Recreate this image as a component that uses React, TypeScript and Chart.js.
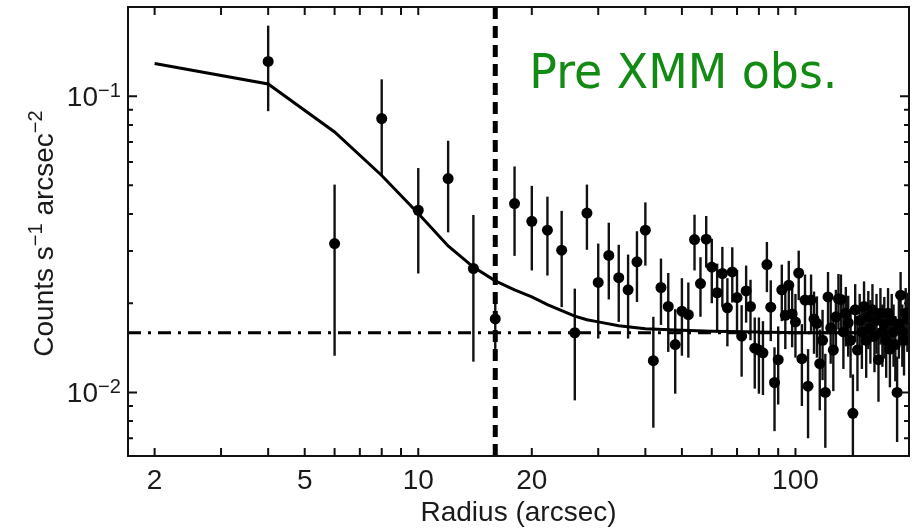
import React, { useEffect, useRef } from "react";
import { Chart, registerables } from "chart.js";

Chart.register(...registerables);

// ---- data ----
const radius = [
  4, 6, 8, 10, 12, 14, 16, 18, 20, 22, 24, 26, 28, 30, 32, 34, 36, 38, 40, 42,
  44, 46, 48, 50, 52, 54, 56, 58, 60, 62, 64, 66, 68, 70, 72, 74, 76, 78, 80, 82,
  84, 86, 88, 90, 92, 94, 96, 98, 100, 102, 104, 106, 108, 110, 112, 114, 116, 118, 120, 122,
  124, 126, 128, 130, 132, 134, 136, 138, 140, 142, 144, 146, 148, 150, 152, 154, 156, 158, 160, 162,
  164, 166, 168, 170, 172, 174, 176, 178, 180, 182, 184, 186, 188, 190, 192, 194, 196, 198,
];
const counts = [
  0.131, 0.0318, 0.084, 0.0412, 0.0527, 0.0262, 0.0177, 0.0434, 0.0378, 0.0353,
  0.0302, 0.0159, 0.0403, 0.0235, 0.029, 0.0244, 0.0222, 0.0276, 0.0353, 0.0128,
  0.0226, 0.0195, 0.0145, 0.0188, 0.0183, 0.0328, 0.0233, 0.0329, 0.0265, 0.0217,
  0.0252, 0.0193, 0.0255, 0.0209, 0.0155, 0.022, 0.0195, 0.0141, 0.0139, 0.0136,
  0.027, 0.0194, 0.0108, 0.0129, 0.0222, 0.0182, 0.023, 0.0184, 0.0173, 0.0253,
  0.013, 0.0205, 0.0105, 0.0205, 0.0177, 0.0171, 0.0125, 0.015, 0.01, 0.021,
  0.0165, 0.0139, 0.018, 0.0207, 0.0206, 0.016, 0.0185, 0.0172, 0.015, 0.0085,
  0.019, 0.0139, 0.0175, 0.016, 0.0195, 0.015, 0.018, 0.0165, 0.019, 0.0155,
  0.0175, 0.0129, 0.0185, 0.016, 0.017, 0.015, 0.0185, 0.014, 0.0175, 0.016,
  0.0145, 0.01, 0.017, 0.0213, 0.016, 0.015, 0.0185, 0.0177,
];
const countErrors = [
  0.042, 0.0185, 0.03, 0.016, 0.018, 0.0135, 0.004, 0.0145, 0.012, 0.0105,
  0.0108, 0.0065, 0.01, 0.0083, 0.0084, 0.0071, 0.007, 0.0074, 0.0085, 0.0052,
  0.0057, 0.0058, 0.0046, 0.0055, 0.0052, 0.007, 0.0053, 0.0065, 0.0065, 0.0055,
  0.0058, 0.005, 0.0054, 0.005, 0.0042, 0.0048, 0.0045, 0.0038, 0.004, 0.0038,
  0.0052, 0.0045, 0.0034, 0.0038, 0.0048, 0.0042, 0.0048, 0.0042, 0.0042, 0.0048,
  0.004, 0.0045, 0.0035, 0.0045, 0.0042, 0.004, 0.0038, 0.004, 0.0035, 0.0045,
  0.004, 0.0038, 0.0042, 0.0044, 0.0044, 0.004, 0.0042, 0.004, 0.0038, 0.003,
  0.0042, 0.0038, 0.004, 0.004, 0.0042, 0.0038, 0.004, 0.004, 0.0042, 0.0038,
  0.004, 0.0036, 0.004, 0.0038, 0.004, 0.0038, 0.004, 0.0036, 0.004, 0.0038,
  0.0036, 0.0032, 0.004, 0.0042, 0.0038, 0.0036, 0.004, 0.004,
];

const modelRadius = [2, 4, 6, 8, 10, 12, 14, 16, 18, 20, 22, 24, 26, 28, 30, 34, 40, 50, 60, 80, 100, 150, 200];
const modelCounts = [
  0.129, 0.11, 0.0757, 0.054, 0.0402, 0.0312, 0.0265, 0.0238, 0.0222, 0.021,
  0.0198, 0.0189, 0.0181, 0.0176, 0.0173, 0.0168, 0.0164, 0.0162, 0.0161, 0.016,
  0.0159, 0.0159, 0.0159,
];

const backgroundLevel = 0.0159;
const sourceRadius = 16;

const xRange = [1.7, 200];
const yRange = [0.0061, 0.2];

const xTickValues = [2, 3, 4, 5, 6, 7, 8, 9, 10, 20, 30, 40, 50, 60, 70, 80, 90, 100];
const xTickLabels = ["2", "5", "10", "20", "100"];
const xTickLabelValues = [2, 5, 10, 20, 100];
const yMajorTicks = [0.01, 0.1];
const yMajorExponents = ["−2", "−1"];
const yMinorTicks = [0.007, 0.008, 0.009, 0.02, 0.03, 0.04, 0.05, 0.06, 0.07, 0.08, 0.09];

const xTitle = "Radius (arcsec)";
const annotationText = "Pre XMM obs.";

const FONT = '"Liberation Sans", Arial, Helvetica, sans-serif';
const INK = "#1a1a1a";

const errorBarPlugin = {
  id: "errorBars",
  beforeDatasetsDraw(chart: any) {
    const { ctx, chartArea, scales } = chart;
    const xs = scales.x;
    const ys = scales.y;
    ctx.save();
    ctx.beginPath();
    ctx.rect(chartArea.left, chartArea.top, chartArea.right - chartArea.left, chartArea.bottom - chartArea.top);
    ctx.clip();
    ctx.strokeStyle = "#111";
    ctx.lineWidth = 2.4;
    for (let i = 0; i < radius.length; i++) {
      const px = xs.getPixelForValue(radius[i]);
      const hi = counts[i] + countErrors[i];
      const lo = Math.max(counts[i] - countErrors[i], 1e-4);
      ctx.beginPath();
      ctx.moveTo(px, ys.getPixelForValue(hi));
      ctx.lineTo(px, ys.getPixelForValue(lo));
      ctx.stroke();
    }
    ctx.restore();
  },
};

const framePlugin = {
  id: "frame",
  afterDraw(chart: any) {
    const { ctx, chartArea, scales } = chart;
    const xs = scales.x;
    const ys = scales.y;
    const { left, right, top, bottom } = chartArea;
    ctx.save();
    ctx.strokeStyle = "#111";
    ctx.lineWidth = 2;
    ctx.strokeRect(left, top, right - left, bottom - top);

    // x ticks (bottom and top, inward)
    for (const v of xTickValues) {
      const px = xs.getPixelForValue(v);
      ctx.beginPath();
      ctx.moveTo(px, bottom);
      ctx.lineTo(px, bottom - 8);
      ctx.moveTo(px, top);
      ctx.lineTo(px, top + 8);
      ctx.stroke();
    }
    // y ticks (left and right, inward)
    for (const v of yMajorTicks) {
      const py = ys.getPixelForValue(v);
      ctx.beginPath();
      ctx.moveTo(left, py);
      ctx.lineTo(left + 9, py);
      ctx.moveTo(right, py);
      ctx.lineTo(right - 9, py);
      ctx.stroke();
    }
    for (const v of yMinorTicks) {
      const py = ys.getPixelForValue(v);
      ctx.beginPath();
      ctx.moveTo(left, py);
      ctx.lineTo(left + 5, py);
      ctx.moveTo(right, py);
      ctx.lineTo(right - 5, py);
      ctx.stroke();
    }

    // x tick labels
    ctx.fillStyle = INK;
    ctx.font = `28px ${FONT}`;
    ctx.textAlign = "center";
    ctx.textBaseline = "alphabetic";
    xTickLabelValues.forEach((v, i) => {
      ctx.fillText(xTickLabels[i], xs.getPixelForValue(v), bottom + 33);
    });

    // y tick labels 10^n
    yMajorTicks.forEach((v, i) => {
      const py = ys.getPixelForValue(v);
      ctx.font = `28px ${FONT}`;
      ctx.textAlign = "right";
      ctx.fillText("10", left - 30, py + 10);
      ctx.font = `20px ${FONT}`;
      ctx.textAlign = "left";
      ctx.fillText(yMajorExponents[i], left - 30, py + 1);
    });

    // x title
    ctx.font = `28px ${FONT}`;
    ctx.textAlign = "center";
    ctx.fillText(xTitle, (left + right) / 2, bottom + 65);

    // y title (rotated, with superscripts)
    const parts: [string, boolean][] = [
      ["Counts s", false],
      ["−1", true],
      [" arcsec", false],
      ["−2", true],
    ];
    const widths = parts.map(([t, sup]) => {
      ctx.font = `${sup ? 20 : 28}px ${FONT}`;
      return ctx.measureText(t).width;
    });
    const total = widths.reduce((a, b) => a + b, 0);
    ctx.save();
    ctx.translate(53, (top + bottom) / 2 + 2);
    ctx.rotate(-Math.PI / 2);
    ctx.textAlign = "left";
    let cx = -total / 2;
    parts.forEach(([t, sup], i) => {
      ctx.font = `${sup ? 20 : 28}px ${FONT}`;
      ctx.fillText(t, cx, sup ? -11 : 0);
      cx += widths[i];
    });
    ctx.restore();

    // annotation
    ctx.save();
    ctx.font = `48px "Comic Sans MS", "DejaVu Sans", sans-serif`;
    ctx.fillStyle = "#138a13";
    ctx.textAlign = "left";
    const w = ctx.measureText(annotationText).width;
    const targetW = 308;
    const ax = xs.getPixelForValue(19.7);
    ctx.translate(ax, top + 81);
    ctx.scale(targetW / w, 1);
    ctx.fillText(annotationText, 0, 0);
    ctx.restore();

    ctx.restore();
  },
};

export default function App() {
  const canvasRef = useRef<HTMLCanvasElement | null>(null);

  useEffect(() => {
    const canvas = canvasRef.current;
    if (!canvas) return;
    const chart = new Chart(canvas, {
      type: "scatter",
      data: {
        datasets: [
          {
            label: "data",
            data: radius.map((r, i) => ({ x: r, y: counts[i] })),
            showLine: false,
            pointRadius: 5.5,
            pointHoverRadius: 5.5,
            pointBackgroundColor: "#000",
            pointBorderColor: "#000",
            pointBorderWidth: 0,
            order: 0,
          },
          {
            label: "model",
            data: modelRadius.map((r, i) => ({ x: r, y: modelCounts[i] })),
            showLine: true,
            borderColor: "#000",
            borderWidth: 3,
            pointRadius: 0,
            tension: 0,
            order: 1,
          },
          {
            label: "source",
            data: [
              { x: sourceRadius, y: yRange[0] },
              { x: sourceRadius, y: yRange[1] },
            ],
            showLine: true,
            borderColor: "#000",
            borderWidth: 5,
            borderDash: [12, 7],
            pointRadius: 0,
            order: 2,
          },
          {
            label: "background",
            data: [
              { x: xRange[0], y: backgroundLevel },
              { x: xRange[1], y: backgroundLevel },
            ],
            showLine: true,
            borderColor: "#000",
            borderWidth: 3,
            borderDash: [13, 7, 3, 7],
            pointRadius: 0,
            order: 3,
          },
        ],
      },
      options: {
        animation: false,
        responsive: false,
        devicePixelRatio: 1,
        layout: { padding: { left: 128, right: 6, top: 7, bottom: 74 } },
        plugins: {
          legend: { display: false },
          tooltip: { enabled: false },
        },
        scales: {
          x: { type: "logarithmic", min: xRange[0], max: xRange[1], display: false },
          y: { type: "logarithmic", min: yRange[0], max: yRange[1], display: false },
        },
      },
      plugins: [errorBarPlugin, framePlugin],
    });
    return () => chart.destroy();
  }, []);

  return (
    <div style={{ position: "fixed", left: 0, top: 0, width: 915, height: 530, background: "#fff" }}>
      <canvas ref={canvasRef} width={915} height={530} />
    </div>
  );
}
